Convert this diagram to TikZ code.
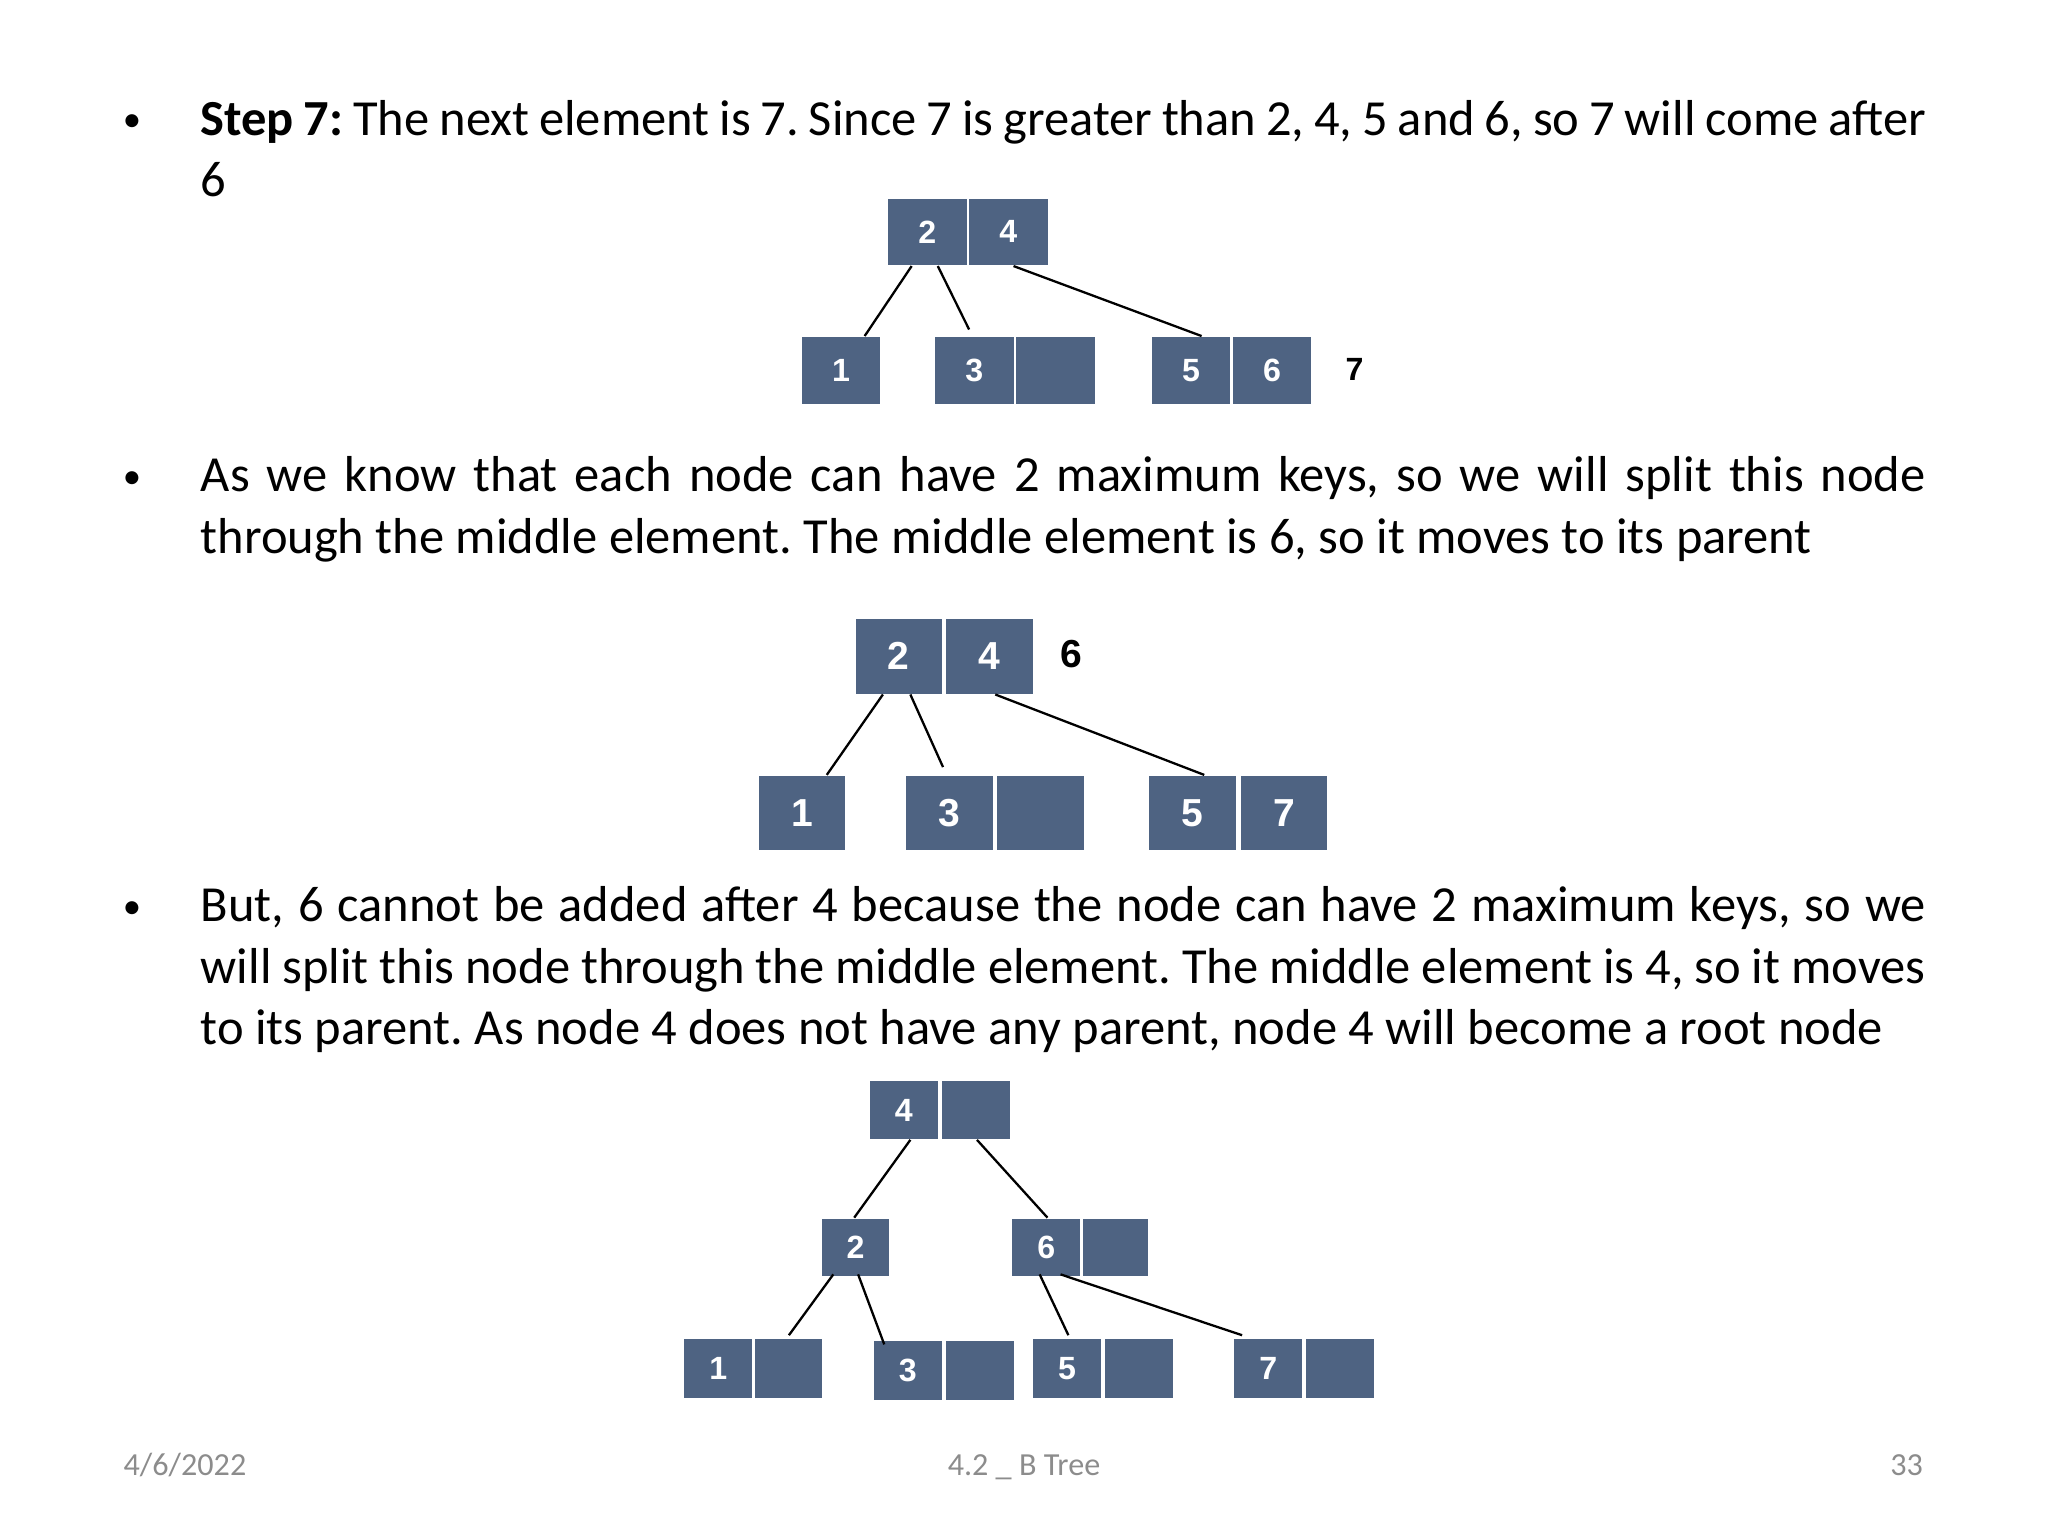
\documentclass[tikz,border=0pt]{standalone}
\usepackage{fontspec}
\setmainfont{Carlito}
\newfontfamily\bxfont{Liberation Sans}
\newdimen\uu \uu=0.01cm
\definecolor{bxc}{HTML}{4E6382}
\definecolor{ft}{HTML}{8C8C8C}
\tikzset{
 bxs/.style={fill=bxc,draw=none,inner sep=0pt,text=white,font=\bxfont\bfseries\fontsize{7}{8}\selectfont},
 bxl/.style={bxs,font=\bxfont\bfseries\fontsize{8.5}{10}\selectfont},
 ln/.style={draw=black,line width=0.5pt},
 para/.style={anchor=north west,text width=13.2cm,align=justify,inner sep=0pt,font=\frenchspacing\fontsize{11}{13.4}\selectfont},
 bul/.style={anchor=base,inner sep=0pt,font=\fontsize{8}{13.4}\selectfont},
 foot/.style={text=ft,inner sep=0pt,anchor=base,font=\fontsize{7}{8}\selectfont}
}
\newcommand\B[7]{\node[#1,minimum width={(#4-#3)*\uu},minimum height={(#6-#5)*\uu}] (#2) at ({(#3+#4)/2},{(#5+#6)/2}) {#7};}
\begin{document}
\begin{tikzpicture}[x=0.01cm,y=-0.01cm]
\useasboundingbox (0,0) rectangle (1568,1176);
\node[bul] (b1) at (101,101) {•};
\node[para] (p1) at (153,76) {\textbf{Step 7:} The next element is 7. Since 7 is greater than 2, 4, 5 and 6, so 7 will come after 6};
\node[bul] (b2) at (101,374) {•};
\node[para] (p2) at (153,349) {As we know that each node can have 2 maximum keys, so we will split this node through the middle element. The middle element is 6, so it moves to its parent};
\node[bul] (b3) at (101,703) {•};
\node[para] (p3) at (153,678) {But, 6 cannot be added after 4 because the node can have 2 maximum keys, so we will split this node through the middle element. The middle element is 4, so it moves to its parent. As node 4 does not have any parent, node 4 will become a root node};
% diagram 1
\B{bxs}{a2}{680}{740}{152}{203}{2}
\B{bxs}{a4}{742}{802}{152}{203}{4}
\B{bxs}{a1}{614}{674}{258}{309}{1}
\B{bxs}{a3}{716}{776}{258}{309}{3}
\B{bxs}{a3e}{778}{838}{258}{309}{}
\B{bxs}{a5}{882}{942}{258}{309}{5}
\B{bxs}{a6}{944}{1004}{258}{309}{6}
\node[font=\bxfont\bfseries\fontsize{7}{8}\selectfont] (a7) at (1037,283) {7};
\draw[ln] ([xshift=-12\uu]a2.south) -- ([xshift=18\uu]a1.north);
\draw[ln] ([xshift=8\uu]a2.south) -- ([xshift=-4\uu,yshift=5\uu]a3.north);
\draw[ln] ([xshift=4\uu]a4.south) -- ([xshift=8\uu]a5.north);
% diagram 2
\B{bxl}{c2}{655}{721}{474}{531}{2}
\B{bxl}{c4}{724}{791}{474}{531}{4}
\node[font=\bxfont\bfseries\fontsize{8.5}{10}\selectfont] (c6) at (820,501) {6};
\B{bxl}{c1}{581}{647}{594}{651}{1}
\B{bxl}{c3}{694}{760}{594}{651}{3}
\B{bxl}{c3e}{763}{830}{594}{651}{}
\B{bxl}{c5}{880}{946}{594}{651}{5}
\B{bxl}{c7}{950}{1016}{594}{651}{7}
\draw[ln] ([xshift=-12\uu]c2.south) -- ([xshift=19\uu]c1.north);
\draw[ln] ([xshift=9\uu]c2.south) -- ([xshift=-5\uu,yshift=6\uu]c3.north);
\draw[ln] ([xshift=4.5\uu]c4.south) -- ([xshift=9\uu]c5.north);
% diagram 3
\B{bxs}{d4}{666}{718}{828}{872}{4}
\B{bxs}{d4e}{721}{773}{828}{872}{}
\B{bxs}{d2}{629}{681}{933}{977}{2}
\B{bxs}{d6}{775}{827}{933}{977}{6}
\B{bxs}{d6e}{829}{879}{933}{977}{}
\B{bxs}{d1}{524}{576}{1025}{1070}{1}
\B{bxs}{d1e}{578}{629}{1025}{1070}{}
\B{bxs}{d3}{669}{721}{1027}{1072}{3}
\B{bxs}{d3e}{724}{776}{1027}{1072}{}
\B{bxs}{d5}{791}{843}{1025}{1070}{5}
\B{bxs}{d5e}{846}{898}{1025}{1070}{}
\B{bxs}{d7}{945}{997}{1025}{1070}{7}
\B{bxs}{d7e}{1000}{1052}{1025}{1070}{}
\draw[ln] ([xshift=5\uu]d4.south) -- ([xshift=-1\uu]d2.north);
\draw[ln] ([xshift=1\uu]d4e.south) -- ([xshift=1\uu]d6.north);
\draw[ln] ([xshift=-17\uu,yshift=2\uu]d2.south) -- ([xshift=0.5\uu,yshift=2\uu]d1e.north);
\draw[ln] ([xshift=2\uu,yshift=2\uu]d2.south) -- ([xshift=-18\uu,yshift=-3\uu]d3.north);
\draw[ln] ([xshift=-5\uu,yshift=2\uu]d6.south) -- ([xshift=1\uu,yshift=2\uu]d5.north);
\draw[ln] ([xshift=11\uu,yshift=2\uu]d6.south) -- ([xshift=-20\uu,yshift=2\uu]d7.north);
% footer
\node[foot,anchor=base west] (f1) at (94,1130) {4/6/2022};
\node[foot] (f2) at (784,1130) {4.2 \_ B Tree};
\node[foot,anchor=base east] (f3) at (1473,1130) {33};
\end{tikzpicture}
\end{document}
